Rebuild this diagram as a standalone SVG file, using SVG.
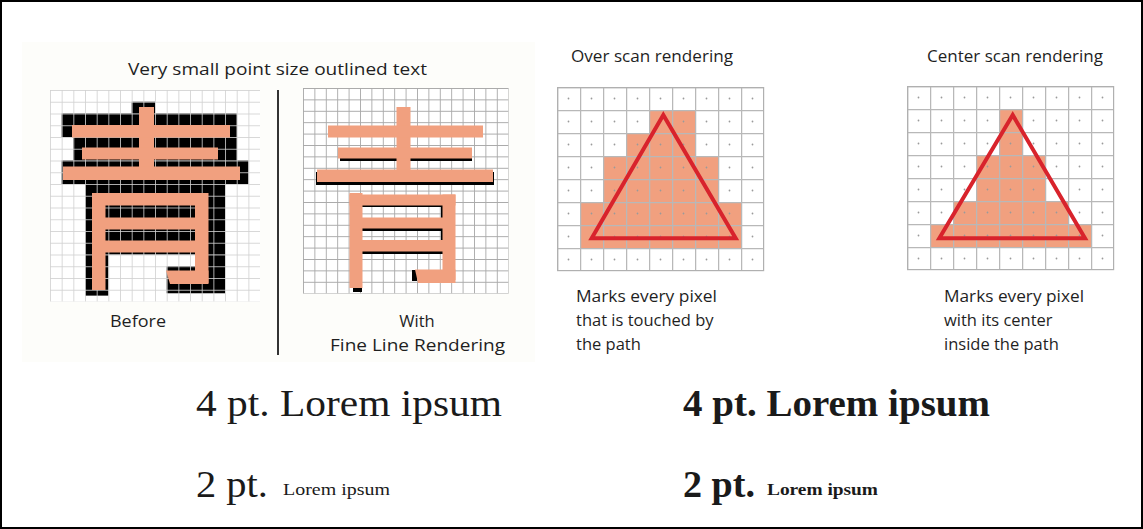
<svg xmlns="http://www.w3.org/2000/svg" width="1143" height="529" viewBox="0 0 1143 529">
<style>
.sans{font-family:"Open Sans","Noto Sans","Liberation Sans",sans-serif;fill:#1f1f1f;}
.serif{font-family:"Liberation Serif","Times New Roman",serif;fill:#1a1a1a;}
.or{fill:#f1a07f;}
.blk{fill:#000;}
.tri{fill:none;stroke:#d8232c;stroke-width:4;stroke-linejoin:miter;}
.frame{fill:none;stroke:#b0b0b0;stroke-width:1.2;}
</style>
<defs>
<pattern id="gLeft" x="0" y="0" width="11.67" height="11.75" patternUnits="userSpaceOnUse">
<path d="M0 0.4H11.67M0.4 0V11.75" stroke="#cfcfcf" stroke-width="0.9" fill="none"/>
</pattern>
<pattern id="gRight" x="0" y="0" width="11.4" height="11.4" patternUnits="userSpaceOnUse">
<path d="M0 0.4H11.4M0.4 0V11.4" stroke="#a9a9a9" stroke-width="1" fill="none"/>
</pattern>
<pattern id="gScan" x="0" y="0" width="23" height="23" patternUnits="userSpaceOnUse">
<path d="M0 0.6H23M0.6 0V23" stroke="#b8b8b8" stroke-width="1.3" fill="none"/>
<circle cx="11.5" cy="11.5" r="0.9" fill="#9a9a9a"/>
</pattern>
</defs>
<rect x="0" y="0" width="1143" height="529" fill="#fff"/>
<rect x="22" y="42" width="513" height="320" fill="#fdfdfa"/>

<!-- Before grid -->
<g id="before">
<rect x="50" y="90" width="210" height="211.5" fill="#fff"/>
<g transform="translate(50,90) scale(11.67,11.75)">
<rect class="blk" x="7" y="1" width="2" height="1"/>
<rect class="blk" x="1" y="2" width="15" height="2"/>
<rect class="blk" x="2" y="4" width="14" height="2"/>
<rect class="blk" x="1" y="6" width="16" height="2"/>
<rect class="blk" x="3" y="8" width="12" height="6"/>
<rect class="blk" x="3" y="14" width="2" height="3.5"/>
<rect class="blk" x="13" y="14" width="2" height="1.2"/>
<rect class="blk" x="10" y="15" width="5" height="2.3"/>
</g>
<g transform="translate(50,90)">
<rect x="0" y="0" width="210" height="211.5" fill="url(#gLeft)"/>
</g>
<g class="or">
<rect x="139" y="107" width="15" height="73"/>
<rect x="72" y="125" width="158" height="12.5"/>
<rect x="82" y="147.5" width="136" height="12"/>
<rect x="63" y="166.5" width="177" height="13.5"/>
<rect x="92" y="193" width="13.5" height="97"/>
<rect x="92" y="193" width="116" height="12.5"/>
<rect x="195" y="193" width="13.5" height="90"/>
<path d="M166 270.5H208.5V284H170Z"/>
<rect x="105" y="217.5" width="91" height="12"/>
<rect x="105" y="240.5" width="91" height="12"/>
</g>
</g>

<line x1="278" y1="90" x2="278" y2="355" stroke="#333" stroke-width="2"/>

<!-- Fine line rendering grid -->
<g id="fineline">
<rect x="303" y="88" width="205.2" height="205.2" fill="#fff"/>
<g transform="translate(303,88)">
<rect x="0" y="0" width="205.6" height="205.6" fill="url(#gRight)"/>
</g>
<g class="blk">
<rect x="340" y="158" width="57" height="3"/>
<rect x="410" y="158" width="62" height="3"/>
<rect x="316" y="172" width="3" height="13"/>
<rect x="491" y="172" width="3" height="13"/>
<rect x="317" y="182" width="176" height="3"/>
<rect x="362" y="204" width="81" height="3"/>
<rect x="362" y="228" width="81" height="3"/>
<rect x="362" y="251" width="81" height="3"/>
<rect x="441" y="205" width="3" height="48"/>
<rect x="412" y="270" width="5" height="11"/>
<rect x="353" y="286" width="9" height="6"/>
</g>
<g class="or">
<rect x="396.5" y="107" width="14" height="73"/>
<rect x="328" y="125.5" width="155" height="12"/>
<rect x="338" y="147.5" width="134" height="11"/>
<rect x="317" y="169.5" width="176" height="12.5"/>
<rect x="349.5" y="193" width="13" height="95"/>
<rect x="349.5" y="194.5" width="106" height="11"/>
<rect x="442.5" y="194.5" width="13" height="85.5"/>
<path d="M415 269.5H455.5V283H418Z"/>
<rect x="362" y="217.5" width="81" height="11"/>
<rect x="362" y="240" width="81" height="11.5"/>
</g>
</g>

<!-- Over scan -->
<g id="overscan" transform="translate(557,87)">
<rect x="0" y="0" width="207" height="184" fill="#fff"/>
<g transform="scale(23)" class="or">
<rect x="4" y="1" width="2" height="1"/>
<rect x="3" y="2" width="3" height="1"/>
<rect x="2" y="3" width="5" height="2"/>
<rect x="1" y="5" width="7" height="2"/>
</g>
<rect x="0" y="0" width="207" height="184" fill="url(#gScan)"/>
<rect class="frame" x="0.6" y="0.6" width="206" height="183"/>
<path class="tri" d="M106.3 28L34.7 151.3H178.7Z"/>
</g>

<!-- Center scan -->
<g id="centerscan" transform="translate(907,86)">
<rect x="0" y="0" width="207" height="184" fill="#fff"/>
<g transform="scale(23)" class="or">
<rect x="4" y="1" width="1" height="2"/>
<rect x="3" y="3" width="3" height="2"/>
<rect x="2" y="5" width="5" height="1"/>
<rect x="1" y="6" width="7" height="1"/>
</g>
<rect x="0" y="0" width="207" height="184" fill="url(#gScan)"/>
<rect class="frame" x="0.6" y="0.6" width="206" height="183"/>
<path class="tri" d="M105.7 29L32.3 152.3H178Z"/>
</g>

<!-- Labels -->
<g id="labels">
<text class="sans" x="128" y="75" font-size="17" textLength="299" lengthAdjust="spacingAndGlyphs">Very small point size outlined text</text>
<text class="sans" x="571" y="62" font-size="16.5" textLength="162" lengthAdjust="spacingAndGlyphs">Over scan rendering</text>
<text class="sans" x="927" y="62" font-size="16.5" textLength="176" lengthAdjust="spacingAndGlyphs">Center scan rendering</text>
<text class="sans" x="110" y="327" font-size="16.5" textLength="56" lengthAdjust="spacingAndGlyphs">Before</text>
<text class="sans" x="417" y="327" font-size="16.5" text-anchor="middle">With</text>
<text class="sans" x="330" y="351" font-size="16.5" textLength="175" lengthAdjust="spacingAndGlyphs">Fine Line Rendering</text>
<text class="sans" x="576" y="302" font-size="16.5" textLength="141" lengthAdjust="spacingAndGlyphs">Marks every pixel</text>
<text class="sans" x="576" y="326" font-size="16.5">that is touched by</text>
<text class="sans" x="576" y="350" font-size="16.5">the path</text>
<text class="sans" x="944" y="302" font-size="16.5" textLength="140" lengthAdjust="spacingAndGlyphs">Marks every pixel</text>
<text class="sans" x="944" y="326" font-size="16.5">with its center</text>
<text class="sans" x="944" y="350" font-size="16.5">inside the path</text>
</g>

<g id="samples">
<text class="serif" x="196" y="416" font-size="37" textLength="306" lengthAdjust="spacingAndGlyphs">4 pt. Lorem ipsum</text>
<text class="serif" x="683" y="416" font-size="37" font-weight="bold" textLength="307" lengthAdjust="spacingAndGlyphs">4 pt. Lorem ipsum</text>
<text class="serif" x="196" y="497" font-size="37" textLength="72" lengthAdjust="spacingAndGlyphs">2 pt.</text>
<text class="serif" x="283" y="495" font-size="17" textLength="107" lengthAdjust="spacingAndGlyphs">Lorem ipsum</text>
<text class="serif" x="683" y="497" font-size="37" font-weight="bold" textLength="72" lengthAdjust="spacingAndGlyphs">2 pt.</text>
<text class="serif" x="767" y="495" font-size="17" font-weight="bold" textLength="111" lengthAdjust="spacingAndGlyphs">Lorem ipsum</text>
</g>

<rect x="1" y="1" width="1141" height="527" fill="none" stroke="#000" stroke-width="2"/>
</svg>
